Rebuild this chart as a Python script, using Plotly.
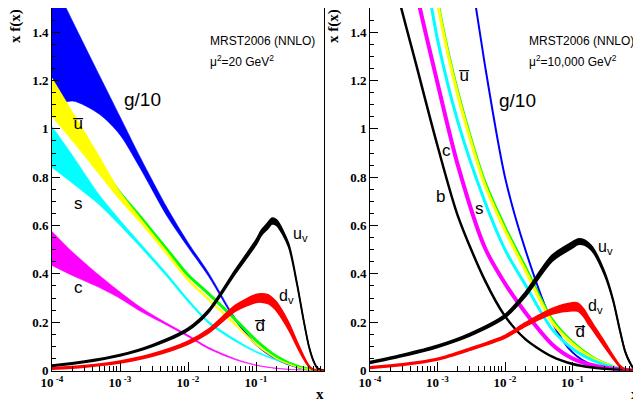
import plotly.graph_objects as go

# page body has an 8px default margin: the figure is sized to fill the rest of the 641x401 window
OFF = 8
W, H = 641 - OFF, 401 - OFF

# ---------------- data ----------------
x_sea = [1e-4, 2e-4, 5e-4, 1e-3, 2e-3, 5e-3, 1e-2, 2e-2, 5e-2, 0.1, 0.2, 0.4, 0.7, 1.0]
x_val = [1e-4, 3e-4, 1e-3, 3e-3, 1e-2, 2e-2, 5e-2, 0.1, 0.12, 0.15, 0.17, 0.2, 0.3, 0.4, 0.5, 0.6, 0.7, 0.8, 1.0]

# ---- mu^2 = 20 GeV^2 (bands) ----
g20_hi = [1.62, 1.446, 1.22, 1.05, 0.88, 0.67, 0.53, 0.405, 0.215, 0.11, 0.047, 0.013, 0.002, 0.0]
g20_lo = [1.09, 1.115, 1.06, 0.975, 0.835, 0.635, 0.51, 0.39, 0.205, 0.104, 0.044, 0.012, 0.002, 0.0]
ubar20_hi = [1.21, 1.07, 0.885, 0.74, 0.63, 0.49, 0.382, 0.30, 0.195, 0.112, 0.052, 0.016, 0.003, 0.0]
ubar20_lo = [1.05, 0.95, 0.81, 0.705, 0.61, 0.475, 0.37, 0.29, 0.185, 0.105, 0.048, 0.014, 0.002, 0.0]
dbar20 = [1.13, 1.0, 0.85, 0.735, 0.635, 0.498, 0.395, 0.318, 0.21, 0.125, 0.058, 0.018, 0.003, 0.0]
s20_hi = [1.01, 0.89, 0.725, 0.622, 0.526, 0.398, 0.296, 0.205, 0.128, 0.08, 0.046, 0.018, 0.004, 0.0]
s20_lo = [0.84, 0.775, 0.685, 0.60, 0.51, 0.385, 0.284, 0.195, 0.12, 0.075, 0.042, 0.016, 0.003, 0.0]
c20_hi = [0.575, 0.49, 0.393, 0.325, 0.262, 0.194, 0.147, 0.096, 0.048, 0.023, 0.0095, 0.003, 0.0005, 0.0]
c20_lo = [0.435, 0.393, 0.343, 0.298, 0.245, 0.186, 0.140, 0.09, 0.044, 0.021, 0.0085, 0.0025, 0.0004, 0.0]
uv20_hi = [0.023, 0.039, 0.066, 0.107, 0.175, 0.251, 0.418, 0.54, 0.58, 0.612, 0.63, 0.623, 0.527, 0.365, 0.214, 0.103, 0.042, 0.011, 0.0]
uv20_lo = [0.017, 0.033, 0.06, 0.099, 0.165, 0.239, 0.402, 0.52, 0.56, 0.588, 0.606, 0.601, 0.513, 0.355, 0.206, 0.097, 0.038, 0.009, 0.0]
dv20_hi = [0.011, 0.02, 0.039, 0.069, 0.121, 0.171, 0.27, 0.314, 0.317, 0.313, 0.303, 0.283, 0.20, 0.12, 0.061, 0.021, 0.004, 0.0005, 0.0]
dv20_lo = [0.005, 0.014, 0.031, 0.059, 0.109, 0.155, 0.246, 0.282, 0.283, 0.277, 0.267, 0.247, 0.17, 0.10, 0.049, 0.015, 0.002, 0.0, 0.0]

# ---- mu^2 = 10,000 GeV^2 ----
g1e4 = [5.0, 4.2, 3.2, 2.6, 2.0, 1.27, 0.80, 0.50, 0.20, 0.075, 0.022, 0.005, 0.001, 0.0]
ubar1e4 = [3.3, 2.7, 2.05, 1.52, 1.14, 0.77, 0.58, 0.415, 0.20, 0.11, 0.05, 0.015, 0.003, 0.0]
dbar1e4 = [3.32, 2.72, 2.07, 1.535, 1.155, 0.785, 0.595, 0.43, 0.212, 0.118, 0.055, 0.017, 0.003, 0.0]
s1e4 = [3.0, 2.4, 1.85, 1.37, 1.03, 0.70, 0.50, 0.355, 0.17, 0.09, 0.042, 0.014, 0.002, 0.0]
c1e4 = [2.6, 2.1, 1.55, 1.19, 0.85, 0.51, 0.36, 0.24, 0.108, 0.05, 0.022, 0.007, 0.001, 0.0]
b1e4 = [2.1, 1.68, 1.25, 0.93, 0.64, 0.375, 0.225, 0.13, 0.057, 0.027, 0.012, 0.004, 0.001, 0.0]
uv1e4_hi = [0.037, 0.066, 0.104, 0.153, 0.231, 0.324, 0.477, 0.532, 0.544, 0.54, 0.529, 0.508, 0.406, 0.294, 0.173, 0.082, 0.038, 0.011, 0.0]
uv1e4_lo = [0.029, 0.058, 0.096, 0.143, 0.219, 0.306, 0.453, 0.508, 0.522, 0.52, 0.511, 0.492, 0.394, 0.286, 0.167, 0.078, 0.034, 0.009, 0.0]
dv1e4_hi = [0.015, 0.027, 0.05, 0.092, 0.145, 0.197, 0.256, 0.28, 0.278, 0.25, 0.225, 0.192, 0.117, 0.061, 0.022, 0.005, 0.0, 0.0, 0.0]
dv1e4_lo = [0.009, 0.021, 0.044, 0.084, 0.135, 0.183, 0.234, 0.248, 0.246, 0.22, 0.195, 0.168, 0.097, 0.049, 0.016, 0.003, 0.0, 0.0, 0.0]

x_ticks = [1e-4, 1e-3, 1e-2, 1e-1]
x_ticktext = ["10<sup> -4</sup>", "10<sup> -3</sup>", "10<sup> -2</sup>", "10<sup> -1</sup>"]
y_ticks = [0, 0.2, 0.4, 0.6, 0.8, 1.0, 1.2, 1.4]

BLUE, YEL, CYAN, MAG, GRN, RED, BLK = "#0000ff", "#ffff00", "#00ffff", "#ff00ff", "#00ff00", "#ff0000", "#000000"

fig = go.Figure()
SM = 0.8


def band(xs, lo, hi, color, xa, ya, lw=0.6):
    common = dict(mode="lines", hoverinfo="skip", showlegend=False, xaxis=xa, yaxis=ya)
    fig.add_trace(go.Scatter(x=xs, y=lo, line=dict(color=color, width=lw, shape="spline", smoothing=SM), **common))
    fig.add_trace(go.Scatter(x=xs, y=hi, line=dict(color=color, width=lw, shape="spline", smoothing=SM),
                             fill="tonexty", fillcolor=color, **common))


def line(xs, ys, color, width, xa, ya):
    fig.add_trace(go.Scatter(x=xs, y=ys, mode="lines", hoverinfo="skip", showlegend=False,
                             line=dict(color=color, width=width, shape="spline", smoothing=SM),
                             xaxis=xa, yaxis=ya))


# left panel
band(x_sea, g20_lo, g20_hi, BLUE, "x", "y")
band(x_sea, c20_lo, c20_hi, MAG, "x", "y")
band(x_sea, s20_lo, s20_hi, CYAN, "x", "y")
line(x_sea, dbar20, GRN, 3, "x", "y")
band(x_sea, ubar20_lo, ubar20_hi, YEL, "x", "y")
band(x_val, uv20_lo, uv20_hi, BLK, "x", "y", lw=1.6)
band(x_val, dv20_lo, dv20_hi, RED, "x", "y", lw=1.6)

# right panel
line(x_sea, g1e4, BLUE, 2, "x2", "y2")
line(x_sea, dbar1e4, GRN, 2.5, "x2", "y2")
line(x_sea, ubar1e4, YEL, 3, "x2", "y2")
line(x_sea, s1e4, CYAN, 3, "x2", "y2")
line(x_sea, c1e4, MAG, 4, "x2", "y2")
line(x_sea, b1e4, BLK, 2.5, "x2", "y2")
band(x_val, uv1e4_lo, uv1e4_hi, BLK, "x2", "y2", lw=1.8)
band(x_val, dv1e4_lo, dv1e4_hi, RED, "x2", "y2", lw=1.8)

tickfont = dict(family="Liberation Serif", size=13, color="black", weight="bold")
minor_x = [k * 10.0 ** e for e in range(-4, 0) for k in range(2, 10)]

xcommon = dict(type="log", range=[-4, 0], tickmode="array", tickvals=x_ticks, ticktext=x_ticktext,
               ticks="inside", ticklen=9, tickwidth=1, tickcolor="black",
               minor=dict(tickmode="array", tickvals=minor_x, ticks="inside", ticklen=5,
                          tickcolor="black", showgrid=False),
               showline=True, linecolor="black", linewidth=1, mirror=True, showgrid=False,
               zeroline=False, tickfont=tickfont, fixedrange=True, automargin=False)
ycommon = dict(range=[0, 1.5], tickmode="array", tickvals=y_ticks, ticks="inside", ticklen=8, tickwidth=1,
               tickcolor="black",
               minor=dict(dtick=0.05, ticks="inside", ticklen=4, tickcolor="black", showgrid=False),
               showline=True, linecolor="black", linewidth=1, mirror=True, showgrid=False,
               zeroline=False, tickfont=tickfont, fixedrange=True, automargin=False)


def fx(px):  # reference pixel -> paper fraction
    return (px - OFF) / W


def fy(py):
    return 1 - (py - OFF) / H


ydom = [fy(370.5), min(1.0, fy(8))]
fig.update_layout(
    width=W, height=H, autosize=False,
    margin=dict(l=0, r=0, t=0, b=0, pad=0, autoexpand=False),
    paper_bgcolor="white", plot_bgcolor="white", showlegend=False,
    xaxis=dict(domain=[fx(52), fx(324)], anchor="y", **xcommon),
    yaxis=dict(domain=ydom, anchor="x", **ycommon),
    xaxis2=dict(domain=[fx(370), min(1.0, fx(640))], anchor="y2", **xcommon),
    yaxis2=dict(domain=ydom, anchor="x2", **ycommon),
)


def label(text, px, py, size=16, xanchor="center", family="Liberation Sans", weight="normal", angle=0):
    fig.add_annotation(x=fx(px), y=fy(py), xref="paper", yref="paper", text=text, showarrow=False,
                       xanchor=xanchor, yanchor="middle", textangle=angle,
                       font=dict(family=family, size=size, color="black", weight=weight))


serif_bold = "Liberation Serif"
# left panel texts
label("MRST2006 (NNLO)", 208, 41, size=12, xanchor="left")
label("μ<sup>2</sup>=20 GeV<sup>2</sup>", 208, 61, size=12, xanchor="left")
label("g/10", 142, 99, size=19)
label("u\u0305", 78, 123, size=17)
label("s", 78, 203, size=17)
label("c", 78, 287, size=17)
label("u<sub>v</sub>", 300, 234, size=16)
label("d<sub>v</sub>", 286, 296, size=16)
label("d\u0305", 260, 325, size=17)
label("x f(x)", 16, 26, size=15, family=serif_bold, weight="bold", angle=-90)
label("x", 320, 394, size=15, family=serif_bold, weight="bold")

# right panel texts
label("MRST2006 (NNLO)", 527, 41, size=12, xanchor="left")
label("μ<sup>2</sup>=10,000 GeV<sup>2</sup>", 527, 61, size=12, xanchor="left")
label("u\u0305", 464, 75, size=17)
label("g/10", 517, 100, size=19)
label("c", 446, 150, size=17)
label("b", 440, 196, size=17)
label("s", 479, 209, size=17)
label("u<sub>v</sub>", 605, 247, size=16)
label("d<sub>v</sub>", 595, 306, size=16)
label("d\u0305", 580, 331, size=17)
label("x f(x)", 334, 26, size=15, family=serif_bold, weight="bold", angle=-90)
label("x", 635, 394, size=15, family=serif_bold, weight="bold")

fig.write_html("out.html")
